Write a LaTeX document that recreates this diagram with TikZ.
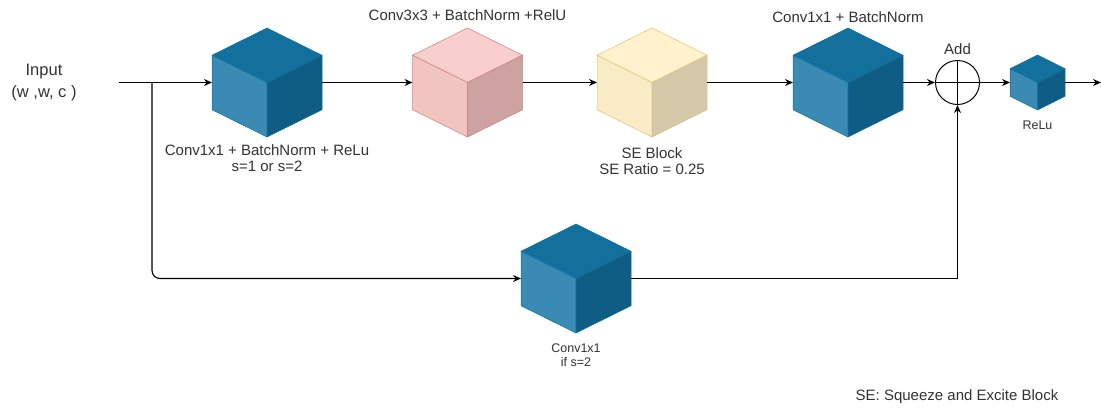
\documentclass[tikz,border=0pt]{standalone}
\usepackage{fontspec}
\setmainfont{Liberation Sans}
\usetikzlibrary{arrows.meta,calc}
\definecolor{btop}{HTML}{13709D}
\definecolor{bleft}{HTML}{3A8AB4}
\definecolor{bright}{HTML}{0F5D85}
\definecolor{bline}{HTML}{10739E}
\definecolor{ptop}{HTML}{F8CFCD}
\definecolor{pleft}{HTML}{F1C3C1}
\definecolor{pright}{HTML}{CDA2A1}
\definecolor{pline}{HTML}{C9817E}
\definecolor{ytop}{HTML}{FFF2CC}
\definecolor{yleft}{HTML}{F8EBC6}
\definecolor{yright}{HTML}{D4C8A8}
\definecolor{yline}{HTML}{DCC27A}
\definecolor{txt}{HTML}{333333}
\newcommand\isocube[6]{%
  \node[minimum width=#4pt, minimum height=#5pt, inner sep=0pt, outer sep=0pt] (#1) at (#2,#3) {};
  \filldraw[fill=#6top, draw=#6line, line width=0.5pt, line join=round] (#2,#3-#5/2) -- (#2+#4/2,#3-#5/4) -- (#2,#3) -- (#2-#4/2,#3-#5/4) -- cycle;
  \filldraw[fill=#6left, draw=#6line, line width=0.5pt, line join=round] (#2-#4/2,#3-#5/4) -- (#2,#3) -- (#2,#3+#5/2) -- (#2-#4/2,#3+#5/4) -- cycle;
  \filldraw[fill=#6right, draw=#6line, line width=0.5pt, line join=round] (#2,#3) -- (#2+#4/2,#3-#5/4) -- (#2+#4/2,#3+#5/4) -- (#2,#3+#5/2) -- cycle;
}
\tikzset{
  conn/.style={line width=1.1pt, -{Stealth[length=8pt,width=7pt]}},
  lbl/.style={text=txt, font=\fontsize{15}{16.5}\selectfont, inner sep=0pt, align=center},
  smalllbl/.style={text=txt, font=\fontsize{12.5}{13.5}\selectfont, inner sep=0pt, align=center},
  biglbl/.style={text=txt, font=\fontsize{16.5}{22}\selectfont, inner sep=0pt, align=center},
}
\begin{document}
\begin{tikzpicture}[x=1pt,y=-1pt]
\useasboundingbox (0,0) rectangle (1101,408);
\fill[white] (0,0) rectangle (1101,408);
% cubes
\isocube{c1}{267}{82.5}{110}{109}{b}
\isocube{c2}{467.5}{82.5}{110}{109}{p}
\isocube{c3}{652}{82.5}{110}{109}{y}
\isocube{c4}{848}{82.5}{110}{109}{b}
\isocube{c6}{1037.5}{82.5}{55}{55}{b}
\isocube{c5}{576}{278.5}{110}{109}{b}
% add node
\node[circle, draw, line width=1pt, minimum size=44pt, inner sep=0pt] (add) at (957.5,82.5) {};
\draw[line width=1pt] (add.north) -- (add.south) (add.west) -- (add.east);
% labels
\node[biglbl] (inlbl) at (44,83) {Input\\(w ,w, c )};
\node[lbl] (l1) at (267,158) {Conv1x1 + BatchNorm + ReLu\\s=1 or s=2};
\node[lbl] (l2) at (467.5,15) {Conv3x3 + BatchNorm +RelU};
\node[lbl] (l3) at (652,161) {SE Block\\SE Ratio = 0.25};
\node[lbl] (l4) at (848,17) {Conv1x1 + BatchNorm};
\node[lbl] (l5) at (957.5,49) {Add};
\node[smalllbl] (l6) at (1037.5,125) {ReLu};
\node[smalllbl] (l7) at (576,355) {Conv1x1\\if s=2};
\node[lbl] (l8) at (957,397) {SE: Squeeze and Excite Block};
% connectors
\coordinate (in) at (119,82.5);
\coordinate (br) at (152,82.5);
\coordinate (out) at (1101,82.5);
\draw[conn] (in) -- (c1.west);
\draw[conn, rounded corners=8pt] (br) |- (c5.west);
\draw[conn] (c1.east) -- (c2.west);
\draw[conn] (c2.east) -- (c3.west);
\draw[conn] (c3.east) -- (c4.west);
\draw[conn] (c4.east) -- (add.west);
\draw[conn] (add.east) -- (c6.west);
\draw[conn] (c6.east) -- (out);
\draw[conn] (c5.east) -| (add.south);
\end{tikzpicture}
\end{document}
